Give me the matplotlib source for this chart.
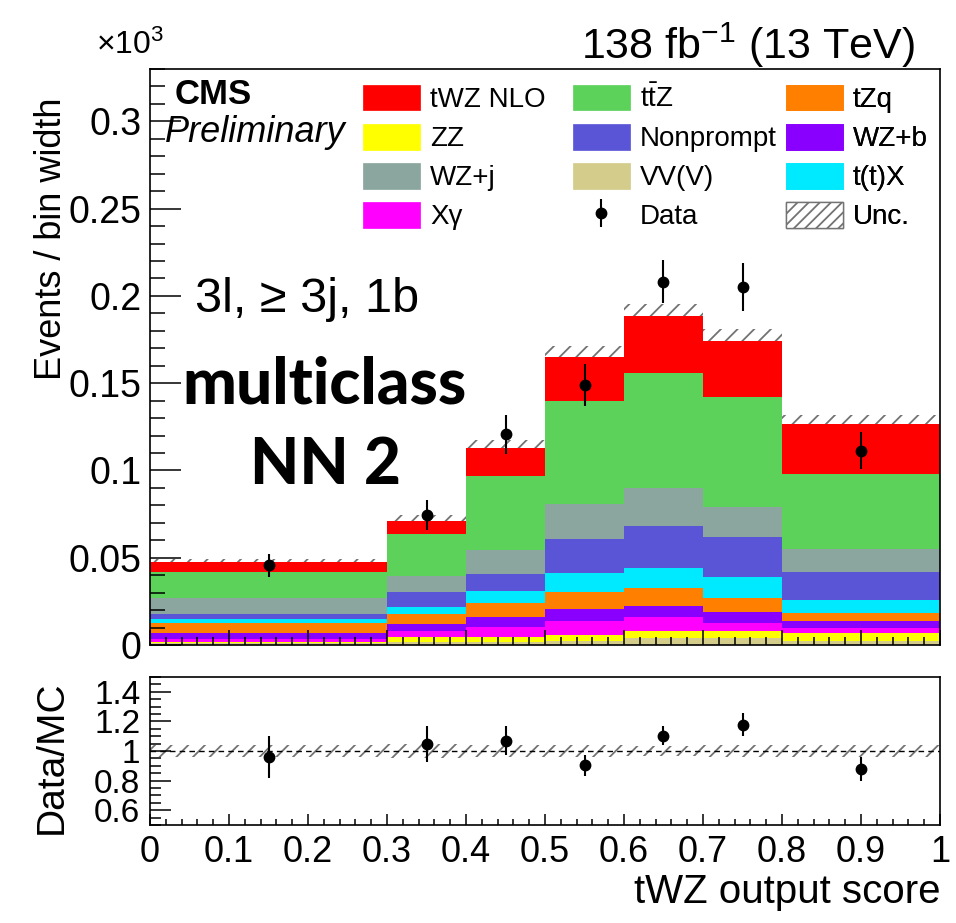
import numpy as np
import matplotlib
matplotlib.use("Agg")
import matplotlib.pyplot as plt
from matplotlib.patches import Patch
from matplotlib.ticker import MultipleLocator, FuncFormatter

# bin edges of the tWZ output score
edges = [0.0, 0.3, 0.4, 0.5, 0.6, 0.7, 0.8, 1.0]

# events / bin width (x10^3), stacked bottom -> top
vvv       = [0.0010, 0.0019, 0.0015, 0.0023, 0.0038, 0.0038, 0.0025]
zz        = [0.0009, 0.0025, 0.0029, 0.0034, 0.0042, 0.0044, 0.0042]
xgamma    = [0.0015, 0.0038, 0.0061, 0.0080, 0.0078, 0.0042, 0.0028]
wzb       = [0.0033, 0.0038, 0.0057, 0.0067, 0.0067, 0.0066, 0.0044]
tzq       = [0.0057, 0.0057, 0.0076, 0.0101, 0.0099, 0.0082, 0.0042]
ttx       = [0.0025, 0.0042, 0.0072, 0.0105, 0.0118, 0.0118, 0.0076]
nonprompt = [0.0028, 0.0082, 0.0096, 0.0196, 0.0240, 0.0229, 0.0162]
wzj       = [0.0090, 0.0093, 0.0141, 0.0204, 0.0217, 0.0171, 0.0133]
ttz       = [0.0152, 0.0240, 0.0424, 0.0590, 0.0657, 0.0629, 0.0429]
twz       = [0.0057, 0.0076, 0.0157, 0.0251, 0.0330, 0.0324, 0.0286]

unc = [0.0018, 0.0033, 0.0044, 0.0063, 0.0067, 0.0067, 0.0050]

data     = [0.0457, 0.0743, 0.1206, 0.1491, 0.2082, 0.2051, 0.1114]
data_err = [0.0067, 0.0086, 0.0110, 0.0120, 0.0123, 0.0137, 0.0105]

stack = [
    ("VV(V)", vvv, "#d3cc8a"),
    ("ZZ", zz, "#ffff00"),
    ("X\u03b3", xgamma, "#ff00ff"),
    ("WZ+b", wzb, "#8a00ff"),
    ("tZq", tzq, "#ff7f00"),
    ("t(t)X", ttx, "#00eaff"),
    ("Nonprompt", nonprompt, "#5a55d6"),
    ("WZ+j", wzj, "#8ba69e"),
    (r"$\mathrm{t\bar{t}Z}$", ttz, "#5cd25a"),
    ("tWZ NLO", twz, "#ff0000"),
]

plt.rcParams["font.family"] = ["Liberation Sans", "DejaVu Sans"]
plt.rcParams["mathtext.fontset"] = "custom"
plt.rcParams["mathtext.rm"] = "Liberation Sans"
plt.rcParams["mathtext.it"] = "Liberation Sans:italic"
plt.rcParams["hatch.color"] = "0.45"
plt.rcParams["hatch.linewidth"] = 1.3

W, H = 956, 923
fig = plt.figure(figsize=(W / 100, H / 100), dpi=100)


def px(x, y):
    return x / W, 1 - y / H


ax = fig.add_axes([150 / W, 1 - 645 / H, 790 / W, 576 / H])
rax = fig.add_axes([150 / W, 1 - 825 / H, 790 / W, 148 / H], sharex=ax)

edges = np.array(edges)
left = edges[:-1]
widths = np.diff(edges)
centers = left + widths / 2

handles = {}
bottom = np.zeros(len(left))
for name, vals, col in stack:
    top = bottom + np.array(vals)
    ax.stairs(top, edges, baseline=bottom, fill=True, color=col, lw=0)
    handles[name] = Patch(facecolor=col, edgecolor=col, lw=0.5)
    bottom = top
total = bottom

ax.bar(left, unc, widths, bottom=total, align="edge", fill=False,
       hatch="//", edgecolor="0.45", lw=0)
handles["Unc."] = Patch(facecolor="white", edgecolor="0.45", hatch="///", lw=1)

eb = ax.errorbar(centers, data, yerr=data_err, fmt="o", color="black",
                 ms=7.5, elinewidth=1.5, capsize=0)
handles["Data"] = eb

ax.set_xlim(0, 1)
ax.set_ylim(0, 0.33)
ax.yaxis.set_major_locator(MultipleLocator(0.05))
ax.yaxis.set_minor_locator(MultipleLocator(0.01))
ax.xaxis.set_major_locator(MultipleLocator(0.1))
ax.xaxis.set_minor_locator(MultipleLocator(0.02))
fmt = FuncFormatter(lambda v, p: f"{v:g}")
ax.yaxis.set_major_formatter(fmt)
ax.tick_params(axis="x", which="both", direction="in", labelbottom=False, width=1.1)
ax.tick_params(axis="x", which="major", length=11)
ax.tick_params(axis="x", which="minor", length=6)
ax.tick_params(axis="y", which="both", direction="in", width=1.1, labelsize=27, pad=6)
ax.tick_params(axis="y", which="major", length=22)
ax.tick_params(axis="y", which="minor", length=11)
for s in ax.spines.values():
    s.set_linewidth(1.2)

# legend: three columns of four rows
fs = 20
cols = [
    ["tWZ NLO", "ZZ", "WZ+j", "X\u03b3"],
    [r"$\mathrm{t\bar{t}Z}$", "Nonprompt", "VV(V)", "Data"],
    ["tZq", "WZ+b", "t(t)X", "Unc."],
]
xs = [0.2696, 0.5354, 0.805]
for names, x0 in zip(cols, xs):
    leg = ax.legend([handles[n] for n in names], names, loc="upper left",
                    bbox_to_anchor=(x0, 0.973), frameon=False, fontsize=fs,
                    handlelength=2.05, handleheight=1.05, handletextpad=0.36,
                    labelspacing=0.39, borderpad=0, borderaxespad=0)
    ax.add_artist(leg)

# ratio panel
rel = np.array(unc) / total
rax.stairs(1 + rel, edges, baseline=1 - rel, fill=True, facecolor="none",
           edgecolor="0.45", hatch="//", lw=0)
rax.axhline(1, color="black", ls=(0, (4, 3)), lw=1)
ratio = np.array(data) / total
ratio_err = np.array(data_err) / total
rax.errorbar(centers, ratio, yerr=ratio_err, fmt="o", color="black",
             ms=7.5, elinewidth=1.5, capsize=0)
rax.set_ylim(0.5, 1.5)
rax.yaxis.set_major_locator(MultipleLocator(0.2))
rax.yaxis.set_minor_locator(MultipleLocator(0.05))
rax.yaxis.set_major_formatter(fmt)
rax.xaxis.set_major_formatter(fmt)
rax.tick_params(axis="x", which="both", direction="in", width=1.1, labelsize=26, pad=7)
rax.tick_params(axis="x", which="major", length=8)
rax.tick_params(axis="x", which="minor", length=4)
rax.tick_params(axis="y", which="both", direction="in", width=1.1, labelsize=24, pad=7)
rax.tick_params(axis="y", which="major", length=15)
rax.tick_params(axis="y", which="minor", length=8)
for s in rax.spines.values():
    s.set_linewidth(1.2)

# texts
fig.text(*px(52, 98), "Events / bin width", rotation=90, ha="center", va="top", fontsize=26)
fig.text(*px(52, 680), "Data/MC", rotation=90, ha="center", va="top", fontsize=28)
fig.text(*px(940, 892), "tWZ output score", ha="right", va="center", fontsize=29)
fig.text(*px(96, 45), r"$\times$10$^{3}$", ha="left", va="center", fontsize=23)
fig.text(*px(915, 45), r"138 fb$^{-1}$ (13 TeV)", ha="right", va="center", fontsize=31)
fig.text(*px(175, 95), "CMS", ha="left", va="center", fontsize=25, weight="bold")
fig.text(*px(165, 133), "Preliminary", ha="left", va="center", fontsize=26, style="italic")
fig.text(*px(307, 300), "3l, \u2265 3j, 1b", ha="center", va="center", fontsize=35)
fig.text(*px(325, 385), "multiclass", ha="center", va="center", fontsize=46,
         family=["Lato", "DejaVu Sans"], weight="black")
fig.text(*px(325, 465), "NN 2", ha="center", va="center", fontsize=46,
         family=["Lato", "DejaVu Sans"], weight="black")

fig.savefig("out.png", dpi=100)
